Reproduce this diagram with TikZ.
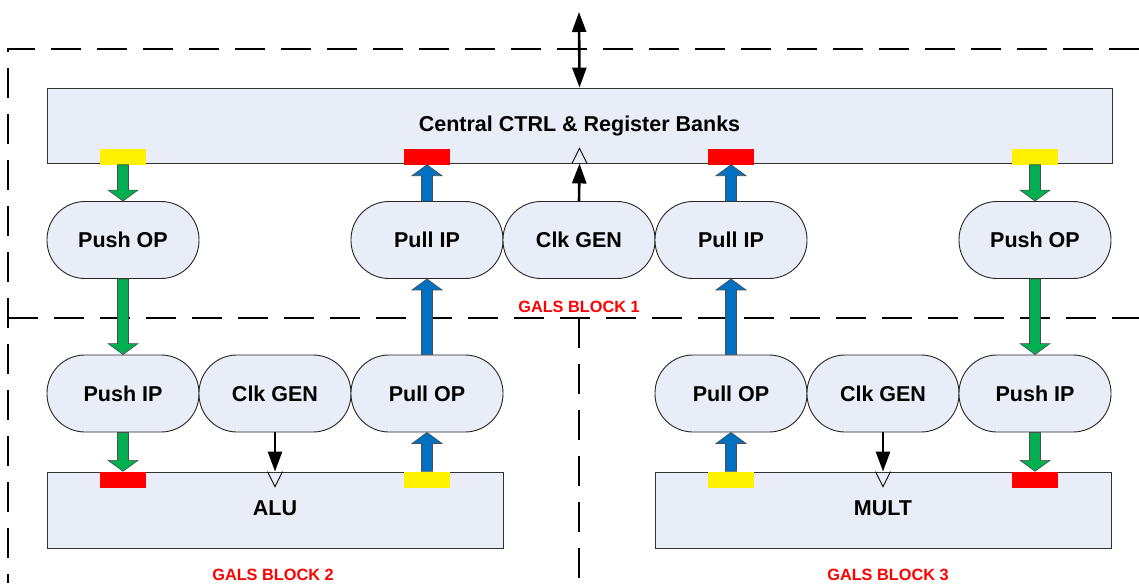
\documentclass[tikz,border=0pt]{standalone}
\usepackage{fontspec}
\setmainfont{Liberation Sans}
\usetikzlibrary{arrows.meta,calc,positioning}

\definecolor{boxfill}{RGB}{232,237,247}
\definecolor{pushgreen}{RGB}{0,176,80}
\definecolor{pullblue}{RGB}{0,112,192}

% wide arrow drawn between two named points (vertical only)
\newcommand{\blockarrow}[3]{%
  \draw[#3] let \p1=(#1), \p2=(#2), \n1={(\y2-\y1)/abs(\y2-\y1)} in
    ({\x1-5.5pt},\y1) -- ({\x1-5.5pt},{\y2-\n1*11pt}) -- ({\x1-15pt},{\y2-\n1*11pt})
    -- (\x1,\y2) -- ({\x1+15pt},{\y2-\n1*11pt}) -- ({\x1+5.5pt},{\y2-\n1*11pt})
    -- ({\x1+5.5pt},\y1) -- cycle;}

\begin{document}
\begin{tikzpicture}[x=1pt,y=-1pt,
box/.style={draw=black!80,line width=0.9pt,fill=boxfill,inner sep=0pt,
  font=\fontsize{21.5}{25}\selectfont\bfseries},
unit/.style={draw=black!85,line width=0.9pt,fill=boxfill,rounded corners=38pt,
  minimum width=152pt,minimum height=77pt,inner sep=0pt,
  font=\fontsize{21.5}{25}\selectfont\bfseries},
port/.style={minimum width=46pt,minimum height=16pt,inner sep=0pt},
green/.style={fill=pushgreen,draw=black!70,line width=0.6pt},
blue/.style={fill=pullblue,draw=black!70,line width=0.6pt},
clk/.style={line width=2.6pt,-{Triangle[length=20pt,width=14pt]}},
blockline/.style={line width=2.2pt,dash pattern=on 30pt off 16pt},
gals/.style={text=red,font=\fontsize{16.3}{19}\selectfont\bfseries}]
\useasboundingbox (0,0) rectangle (1139,583);

% GALS block borders
\draw[blockline] (1139,49) -- (8,49) -- (8,583);
\draw[blockline] (8,318) -- (1139,318);
\draw[blockline] (579,318) -- (579,583);
\node[gals] (g1) at (579,307) {GALS BLOCK 1};
\node[gals] (g2) at (273,575) {GALS BLOCK 2};
\node[gals] (g3) at (888,575) {GALS BLOCK 3};

% big boxes
\node[box,minimum width=1065pt,minimum height=75pt] (ctrl) at (579.5,125.5) {Central CTRL \& Register Banks};
\node[box,minimum width=456pt,minimum height=76pt] (alu) at (275,510) {};
\node[box,minimum width=456pt,minimum height=76pt] (mult) at (883,510) {};
\node[font=\fontsize{21.5}{25}\selectfont\bfseries] (alut) at (275,508) {ALU};
\node[font=\fontsize{21.5}{25}\selectfont\bfseries] (multt) at (883,508) {MULT};

% ports
\node[port,fill=yellow] (cp1) at (123,156.5) {};
\node[port,fill=red] (cp2) at (427,156.5) {};
\node[port,fill=red] (cp3) at (731,156.5) {};
\node[port,fill=yellow] (cp4) at (1035,156.5) {};
\node[port,fill=red] (ap1) at (123,479.5) {};
\node[port,fill=yellow] (ap2) at (427,479.5) {};
\node[port,fill=yellow] (mp1) at (731,479.5) {};
\node[port,fill=red] (mp2) at (1035,479.5) {};

% interface units
\node[unit] (pushopA) at (123,240) {Push OP};
\node[unit] (pullipA) at (427,240) {Pull IP};
\node[unit] (clkA) at (579,240) {Clk GEN};
\node[unit] (pullipB) at (731,240) {Pull IP};
\node[unit] (pushopB) at (1035,240) {Push OP};
\node[unit] (pushipA) at (123,393.5) {Push IP};
\node[unit] (clkB) at (275,393.5) {Clk GEN};
\node[unit] (pullopA) at (427,393.5) {Pull OP};
\node[unit] (pullopB) at (731,393.5) {Pull OP};
\node[unit] (clkC) at (883,393.5) {Clk GEN};
\node[unit] (pushipB) at (1035,393.5) {Push IP};

% data arrows
\blockarrow{cp1.south}{pushopA.north}{green}
\blockarrow{pushopA.south}{pushipA.north}{green}
\blockarrow{pushipA.south}{ap1.north}{green}
\blockarrow{cp4.south}{pushopB.north}{green}
\blockarrow{pushopB.south}{pushipB.north}{green}
\blockarrow{pushipB.south}{mp2.north}{green}
\blockarrow{pullipA.north}{cp2.south}{blue}
\blockarrow{pullopA.north}{pullipA.south}{blue}
\blockarrow{ap2.north}{pullopA.south}{blue}
\blockarrow{pullipB.north}{cp3.south}{blue}
\blockarrow{pullopB.north}{pullipB.south}{blue}
\blockarrow{mp1.north}{pullopB.south}{blue}

% clocks
\draw[clk] (clkA.north) -- (ctrl.south);
\draw[clk] (clkB.south) -- (alu.north);
\draw[clk] (clkC.south) -- (mult.north);
\draw[line width=0.9pt] ($(ctrl.south)+(-7.5,0)$) -- ++(7.5,-15) -- ++(7.5,15);
\draw[line width=0.9pt] ($(alu.north)+(-7.5,0)$) -- ++(7.5,15) -- ++(7.5,-15);
\draw[line width=0.9pt] ($(mult.north)+(-7.5,0)$) -- ++(7.5,15) -- ++(7.5,-15);

% external bus
\coordinate (ext) at (579,12);
\draw[line width=2.6pt,{Triangle[length=20pt,width=14pt]}-{Triangle[length=20pt,width=14pt]}] (ext) -- (ctrl.north);
\end{tikzpicture}
\end{document}
